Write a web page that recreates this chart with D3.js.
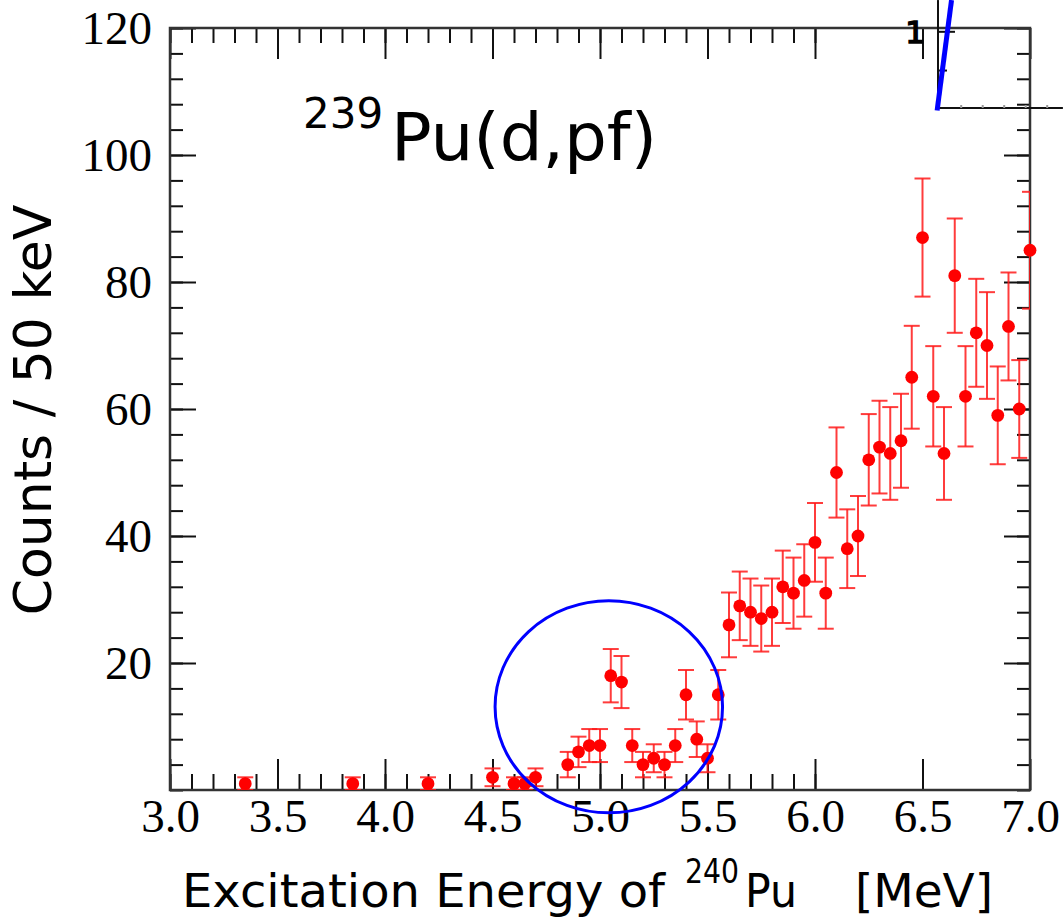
<!DOCTYPE html>
<html>
<head>
<meta charset="utf-8">
<script src="https://cdn.jsdelivr.net/npm/d3@7"></script>
<style>
  body { margin: 0; background: #fff; }
  svg { display: block; }
  .tick-label { font-family: "Liberation Serif", "Times New Roman", serif; font-size: 47px; fill: #000; }
  .sans { font-family: "DejaVu Sans", Verdana, sans-serif; fill: #000; }
</style>
</head>
<body>
<div id="chart"></div>
<script>
// bin centres (MeV) and counts per 50 keV
const energies = [3.35, 3.85, 4.2, 4.5, 4.6, 4.65, 4.7, 4.85, 4.9, 4.95, 5.0, 5.05, 5.1, 5.15, 5.2,
  5.25, 5.3, 5.35, 5.4, 5.45, 5.5, 5.55, 5.6, 5.65, 5.7, 5.75, 5.8, 5.85, 5.9, 5.95, 6.0, 6.05,
  6.1, 6.15, 6.2, 6.25, 6.3, 6.35, 6.4, 6.45, 6.5, 6.55, 6.6, 6.65, 6.7, 6.75, 6.8, 6.85, 6.9, 6.95, 7.0]
const counts = [1, 1, 1, 2, 1, 1, 2, 4, 6, 7, 7, 18, 17, 7, 4,
  5, 4, 7, 15, 8, 5, 15, 26, 29, 28, 27, 28, 32, 31, 33, 39, 31,
  50, 38, 40, 52, 54, 53, 55, 65, 87, 62, 53, 81, 62, 72, 70, 59, 73, 60, 85]
const errors = [1, 1, 1, 1.4, 1, 1, 1.4, 2, 2.4, 2.6, 2.6, 4.2, 4.1, 2.6, 2,
  2.2, 2, 2.6, 3.9, 2.8, 2.2, 3.9, 5.1, 5.4, 5.3, 5.2, 5.3, 5.7, 5.6, 5.7, 6.2, 5.6,
  7.1, 6.2, 6.3, 7.2, 7.3, 7.3, 7.4, 8.1, 9.3, 7.9, 7.3, 9, 7.9, 8.5, 8.4, 7.7, 8.5, 7.7, 9.2]

const xMajorTicks = [3.0, 3.5, 4.0, 4.5, 5.0, 5.5, 6.0, 6.5, 7.0]
const yMajorTicks = [20, 40, 60, 80, 100, 120]

// hand-drawn ellipse around the 5 MeV structure (data units)
const ring = { e: 5.041, c: 13.1, re: 0.529, rc: 16.7 }
// leftover inset frame in the top right corner (data units)
const inset = { e0: 6.572, e1: 7.153, c0: 107.4, c1: 124.4 }
const insetLine = [[6.568, 107.0], [6.635, 124.4]]

const w = 1063, h = 919
const margin = { left: 170, right: 33, top: 28, bottom: 129 }

const svg = d3.select("#chart").append("svg")
  .attr("width", w)
  .attr("height", h)

const x = d3.scaleLinear().domain([3, 7]).range([margin.left, w - margin.right])
const y = d3.scaleLinear().domain([0, 120]).range([h - margin.bottom, margin.top])

const x0 = x.range()[0], x1 = x.range()[1]
const yb = y.range()[0], yt = y.range()[1]

svg.append("clipPath").attr("id", "plot-clip")
  .append("rect")
  .attr("x", x0).attr("y", yt)
  .attr("width", x1 - x0).attr("height", yb - yt)

// ticks, ROOT style: pointing into the frame on all four sides
const xMinor = d3.range(31).map(i => 3 + i * 0.1 + 1e-9)
const yMinor = d3.range(31).map(i => i * 4)

function styleAxis(g) {
  g.select(".domain").remove()
  g.selectAll(".tick line").attr("stroke", "#111").attr("stroke-width", 2)
}

svg.append("g").attr("transform", `translate(0,${yb})`)
  .call(d3.axisBottom(x).tickValues(xMinor).tickSize(-16).tickFormat(""))
  .call(styleAxis)
svg.append("g").attr("transform", `translate(0,${yb})`)
  .call(d3.axisBottom(x).tickValues(xMajorTicks).tickSize(-31).tickFormat(d3.format(".1f")))
  .call(styleAxis)
  .call(g => g.selectAll("text").attr("class", "tick-label").attr("dy", 0).attr("y", 42))

svg.append("g").attr("transform", `translate(0,${yt})`)
  .call(d3.axisTop(x).tickValues(xMinor).tickSize(-15).tickFormat(""))
  .call(styleAxis)
svg.append("g").attr("transform", `translate(0,${yt})`)
  .call(d3.axisTop(x).tickValues(xMajorTicks).tickSize(-31).tickFormat(""))
  .call(styleAxis)

svg.append("g").attr("transform", `translate(${x0},0)`)
  .call(d3.axisLeft(y).tickValues(yMinor).tickSize(-13).tickFormat(""))
  .call(styleAxis)
svg.append("g").attr("transform", `translate(${x0},0)`)
  .call(d3.axisLeft(y).tickValues(yMajorTicks).tickSize(-26).tickFormat(d3.format("d")))
  .call(styleAxis)
  .call(g => g.selectAll("text").attr("class", "tick-label").attr("x", -18).attr("dy", "0.34em"))

svg.append("g").attr("transform", `translate(${x1},0)`)
  .call(d3.axisRight(y).tickValues(yMinor).tickSize(-13).tickFormat(""))
  .call(styleAxis)
svg.append("g").attr("transform", `translate(${x1},0)`)
  .call(d3.axisRight(y).tickValues(yMajorTicks).tickSize(-26).tickFormat(""))
  .call(styleAxis)

// frame
svg.append("rect")
  .attr("x", x0).attr("y", yt)
  .attr("width", x1 - x0).attr("height", yb - yt)
  .attr("fill", "none")
  .attr("stroke", "#333")
  .attr("stroke-width", 2.5)

// error bars
let data = energies.map((e, i) => ({ e: e, c: counts[i], err: errors[i] }))

let bars = svg.append("g")
  .attr("clip-path", "url(#plot-clip)")
  .attr("stroke", "#ff1a1a")
  .attr("stroke-opacity", 0.85)
  .attr("stroke-width", 2)

bars.selectAll(".err")
  .data(data)
  .enter()
  .append("line")
  .attr("x1", d => x(d.e)).attr("x2", d => x(d.e))
  .attr("y1", d => y(d.c - d.err)).attr("y2", d => y(d.c + d.err))

bars.selectAll(".cap-hi")
  .data(data)
  .enter()
  .append("line")
  .attr("x1", d => x(d.e) - 8).attr("x2", d => x(d.e) + 8)
  .attr("y1", d => y(d.c + d.err)).attr("y2", d => y(d.c + d.err))

bars.selectAll(".cap-lo")
  .data(data)
  .enter()
  .append("line")
  .attr("x1", d => x(d.e) - 8).attr("x2", d => x(d.e) + 8)
  .attr("y1", d => y(d.c - d.err)).attr("y2", d => y(d.c - d.err))

svg.append("g")
  .selectAll("circle")
  .data(data)
  .enter()
  .append("circle")
  .attr("cx", d => x(d.e))
  .attr("cy", d => y(d.c))
  .attr("r", 6.4)
  .attr("fill", "#ff0000")

// blue ring
svg.append("ellipse")
  .attr("cx", x(ring.e))
  .attr("cy", y(ring.c))
  .attr("rx", x(ring.e + ring.re) - x(ring.e))
  .attr("ry", y(ring.c) - y(ring.c + ring.rc))
  .attr("fill", "none")
  .attr("stroke", "#0000ff")
  .attr("stroke-width", 3)

// inset remnant
let ins = svg.append("g").attr("stroke", "#111").attr("stroke-width", 2)
ins.append("line")
  .attr("x1", x(inset.e0)).attr("x2", x(inset.e0))
  .attr("y1", y(inset.c1)).attr("y2", y(inset.c0))
ins.append("line")
  .attr("x1", x(inset.e0)).attr("x2", x(inset.e1))
  .attr("y1", y(inset.c0)).attr("y2", y(inset.c0))
ins.append("line")
  .attr("x1", x(inset.e0)).attr("x2", x(inset.e0) + 17)
  .attr("y1", y(119.4)).attr("y2", y(119.4))
ins.append("line")
  .attr("x1", x(inset.e0)).attr("x2", x(inset.e0) + 9)
  .attr("y1", y(113.3)).attr("y2", y(113.3))
ins.selectAll(".mt")
  .data([6.68, 6.78, 6.88, 6.98, 7.08])
  .enter()
  .append("line")
  .attr("stroke", "#999")
  .attr("x1", d => x(d)).attr("x2", d => x(d))
  .attr("y1", y(inset.c0)).attr("y2", y(inset.c0) - 3)

svg.append("line")
  .attr("x1", x(insetLine[0][0])).attr("y1", y(insetLine[0][1]))
  .attr("x2", x(insetLine[1][0])).attr("y2", y(insetLine[1][1]))
  .attr("stroke", "#0000ff")
  .attr("stroke-width", 5)

svg.append("text")
  .attr("class", "sans")
  .attr("x", 925).attr("y", 43)
  .attr("text-anchor", "end")
  .attr("font-size", 31)
  .attr("stroke", "#000")
  .attr("stroke-width", 1.5)
  .text("1")

// title
svg.append("text").attr("class", "sans")
  .attr("x", 303).attr("y", 128).attr("font-size", 42)
  .text("239")
svg.append("text").attr("class", "sans")
  .attr("x", 391).attr("y", 160).attr("font-size", 65)
  .attr("textLength", 266).attr("lengthAdjust", "spacingAndGlyphs")
  .text("Pu(d,pf)")

// x axis title
let xt = svg.append("g").attr("class", "sans")
xt.append("text").attr("x", 182).attr("y", 907).attr("font-size", 46)
  .attr("textLength", 483).attr("lengthAdjust", "spacingAndGlyphs")
  .text("Excitation Energy of")
xt.append("text").attr("x", 685).attr("y", 883).attr("font-size", 33)
  .attr("textLength", 54).attr("lengthAdjust", "spacingAndGlyphs")
  .text("240")
xt.append("text").attr("x", 745).attr("y", 907).attr("font-size", 46)
  .attr("textLength", 52).attr("lengthAdjust", "spacingAndGlyphs")
  .text("Pu")
xt.append("text").attr("x", 855).attr("y", 907).attr("font-size", 46)
  .attr("textLength", 138).attr("lengthAdjust", "spacingAndGlyphs")
  .text("[MeV]")

// y axis title
svg.append("text")
  .attr("class", "sans")
  .attr("transform", "translate(51,410) rotate(-90)")
  .attr("text-anchor", "middle")
  .attr("font-size", 52)
  .text("Counts / 50 keV")
</script>
</body>
</html>
